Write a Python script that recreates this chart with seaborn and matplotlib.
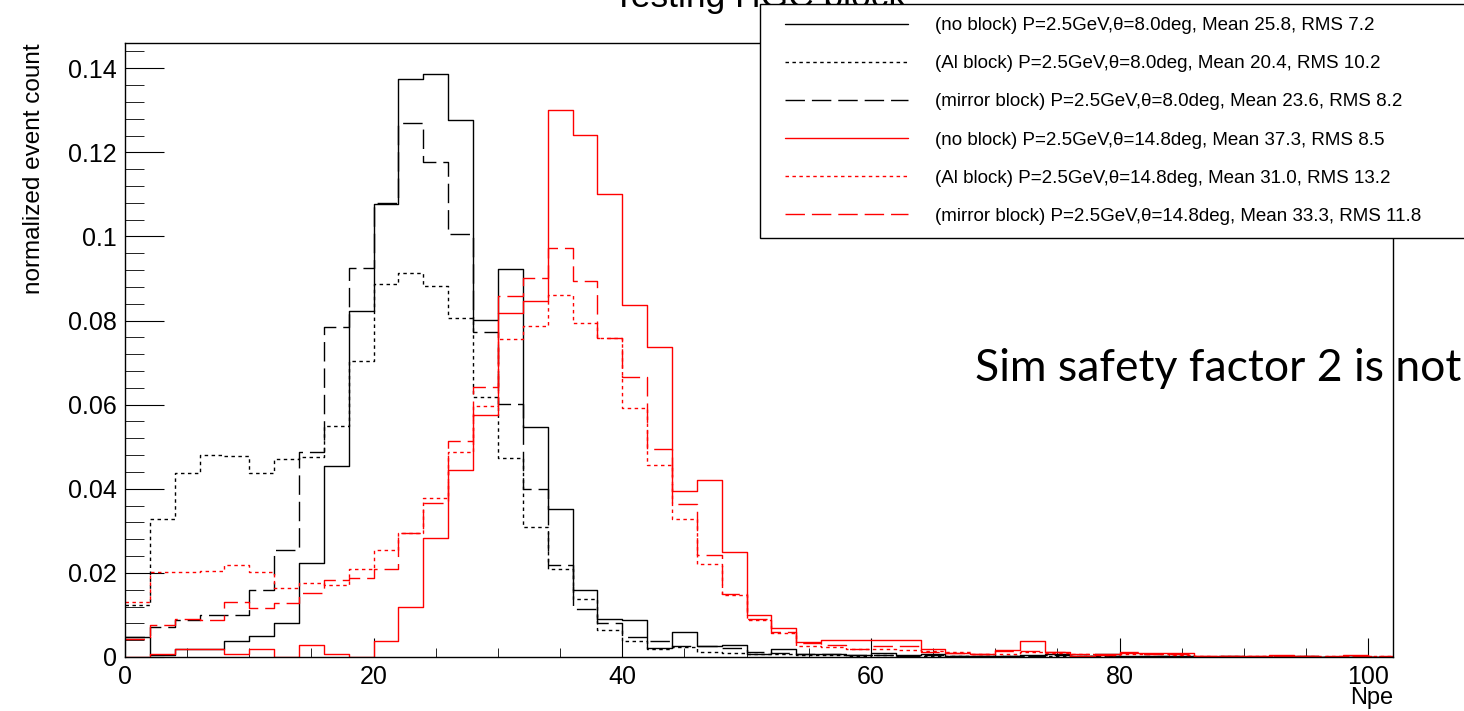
import matplotlib
matplotlib.use("Agg")
import matplotlib.pyplot as plt
import seaborn as sns
import numpy as np
import pandas as pd
from matplotlib.lines import Line2D
from matplotlib.legend_handler import HandlerLine2D
from matplotlib.ticker import MultipleLocator, FuncFormatter

# bin edges: 51 bins of width 2 from 0 to 102
edges = list(range(0, 104, 2))
centers = [e + 1 for e in edges[:-1]]

no_block_8 = [0.0048, 0.0005, 0.0019, 0.0019, 0.0039, 0.0051, 0.0081, 0.0223, 0.0455, 0.0823,
              0.1078, 0.1375, 0.1387, 0.1278, 0.0801, 0.0923, 0.0547, 0.0353, 0.0160, 0.0090,
              0.0089, 0.0022, 0.0059, 0.0027, 0.0029, 0.0008, 0.0020, 0.0006, 0.0006, 0.0004,
              0.0010, 0.0004, 0.0006, 0.0002, 0.0002, 0.0002, 0.0004, 0.0006, 0.0002, 0.0006,
              0.0002, 0.0002, 0.0002, 0.0001, 0.0002, 0.0001, 0.0001, 0.0002, 0.0001, 0.0001, 0.0000]
al_8 = [0.0124, 0.0327, 0.0438, 0.0480, 0.0479, 0.0438, 0.0472, 0.0475, 0.0550, 0.0704,
        0.0888, 0.0912, 0.0882, 0.0805, 0.0618, 0.0474, 0.0309, 0.0209, 0.0137, 0.0065,
        0.0038, 0.0019, 0.0023, 0.0012, 0.0010, 0.0008, 0.0006, 0.0004, 0.0004, 0.0003,
        0.0004, 0.0003, 0.0003, 0.0002, 0.0003, 0.0002, 0.0003, 0.0002, 0.0002, 0.0002,
        0.0001, 0.0001, 0.0002, 0.0001, 0.0001, 0.0001, 0.0001, 0.0001, 0.0000, 0.0001, 0.0000]
mirror_8 = [0.0048, 0.0072, 0.0088, 0.0100, 0.0100, 0.0160, 0.0254, 0.0487, 0.0784, 0.0926,
            0.1080, 0.1269, 0.1178, 0.1007, 0.0772, 0.0601, 0.0400, 0.0218, 0.0115, 0.0080,
            0.0048, 0.0037, 0.0025, 0.0027, 0.0021, 0.0013, 0.0010, 0.0006, 0.0006, 0.0004,
            0.0005, 0.0003, 0.0004, 0.0002, 0.0002, 0.0003, 0.0003, 0.0004, 0.0002, 0.0002,
            0.0001, 0.0002, 0.0001, 0.0001, 0.0001, 0.0001, 0.0001, 0.0001, 0.0001, 0.0000, 0.0000]
no_block_14 = [0.0001, 0.0008, 0.0019, 0.0019, 0.0008, 0.0019, 0.0000, 0.0029, 0.0008, 0.0000,
               0.0039, 0.0120, 0.0282, 0.0444, 0.0575, 0.0817, 0.0847, 0.1301, 0.1241, 0.1100,
               0.0836, 0.0737, 0.0394, 0.0422, 0.0250, 0.0099, 0.0070, 0.0036, 0.0040, 0.0040,
               0.0040, 0.0040, 0.0020, 0.0009, 0.0006, 0.0016, 0.0039, 0.0012, 0.0002, 0.0006,
               0.0009, 0.0009, 0.0009, 0.0002, 0.0002, 0.0002, 0.0004, 0.0002, 0.0001, 0.0004, 0.0001]
al_14 = [0.0131, 0.0202, 0.0202, 0.0205, 0.0218, 0.0203, 0.0163, 0.0175, 0.0171, 0.0209,
         0.0254, 0.0296, 0.0378, 0.0487, 0.0598, 0.0756, 0.0787, 0.0861, 0.0794, 0.0758,
         0.0593, 0.0457, 0.0328, 0.0220, 0.0147, 0.0087, 0.0056, 0.0026, 0.0024, 0.0020,
         0.0020, 0.0016, 0.0014, 0.0012, 0.0006, 0.0007, 0.0012, 0.0009, 0.0007, 0.0004,
         0.0006, 0.0006, 0.0004, 0.0003, 0.0002, 0.0003, 0.0002, 0.0002, 0.0003, 0.0002, 0.0002]
mirror_14 = [0.0042, 0.0075, 0.0090, 0.0088, 0.0130, 0.0117, 0.0128, 0.0152, 0.0182, 0.0187,
             0.0209, 0.0296, 0.0366, 0.0513, 0.0643, 0.0859, 0.0902, 0.0972, 0.0895, 0.0759,
             0.0666, 0.0495, 0.0365, 0.0242, 0.0150, 0.0090, 0.0060, 0.0034, 0.0029, 0.0020,
             0.0026, 0.0026, 0.0012, 0.0010, 0.0006, 0.0014, 0.0014, 0.0012, 0.0007, 0.0004,
             0.0012, 0.0007, 0.0006, 0.0003, 0.0002, 0.0002, 0.0003, 0.0002, 0.0003, 0.0002, 0.0002]

labels = ["(no block) P=2.5GeV,θ=8.0deg, Mean 25.8, RMS 7.2",
          "(Al block) P=2.5GeV,θ=8.0deg, Mean 20.4, RMS 10.2",
          "(mirror block) P=2.5GeV,θ=8.0deg, Mean 23.6, RMS 8.2",
          "(no block) P=2.5GeV,θ=14.8deg, Mean 37.3, RMS 8.5",
          "(Al block) P=2.5GeV,θ=14.8deg, Mean 31.0, RMS 13.2",
          "(mirror block) P=2.5GeV,θ=14.8deg, Mean 33.3, RMS 11.8"]

DOT = (0, (2.5, 2.5))
DASH = (0, (14, 5))
series = [(no_block_8, "black", "-"), (al_8, "black", DOT), (mirror_8, "black", DASH),
          (no_block_14, "red", "-"), (al_14, "red", DOT), (mirror_14, "red", DASH)]

sns.set_style("white")
plt.rcParams['font.family'] = ['Liberation Sans', 'DejaVu Sans']
plt.rcParams['text.color'] = 'black'
plt.rcParams['axes.labelcolor'] = 'black'
plt.rcParams['xtick.color'] = 'black'
plt.rcParams['ytick.color'] = 'black'

fig = plt.figure(figsize=(14.64, 7.11), dpi=100)
ax = fig.add_axes([125 / 1464, 54 / 711, 1268 / 1464, 614 / 711])

for vals, color, ls in series:
    df = pd.DataFrame({"npe": centers, "w": vals})
    sns.histplot(data=df, x="npe", weights="w", bins=edges, element="step", fill=False,
                 color=color, linestyle=ls, linewidth=1.0, ax=ax)

ax.set_xlim(0, 102)
ax.set_ylim(0, 0.146)
ax.xaxis.set_major_locator(MultipleLocator(20))
ax.xaxis.set_minor_locator(MultipleLocator(5))
ax.yaxis.set_major_locator(MultipleLocator(0.02))
ax.yaxis.set_minor_locator(MultipleLocator(0.004))
ax.yaxis.set_major_formatter(FuncFormatter(lambda v, p: "%g" % round(v, 4)))
ax.tick_params(axis="both", which="both", direction="in", color="black", labelsize=18)
ax.tick_params(axis="x", which="major", length=13.7, pad=6)
ax.tick_params(axis="x", which="minor", length=6.8)
ax.tick_params(axis="y", which="major", length=28, pad=6)
ax.tick_params(axis="y", which="minor", length=13.7)
ax.tick_params(bottom=True, left=True, which="both")
for s in ax.spines.values():
    s.set_color("black")
    s.set_linewidth(1.0)

ax.set_xlabel("Npe", loc="right", fontsize=17, labelpad=-2)
ax.set_ylabel("normalized event count", loc="top", fontsize=17.5)
ax.yaxis.set_label_coords(-0.063, 1.0)

fig.text(613 / 1464, 1 - 7 / 711, "Testing HGC block", ha="left", va="baseline", fontsize=25.5)

handles = [Line2D([], [], color=c, linestyle=ls, linewidth=1.0) for _, c, ls in series]
fs = 13.5
leg = fig.legend(handles, labels, loc="upper left",
                 bbox_to_anchor=(760 / 1464, 1 - 4 / 711, 720 / 1464, 0),
                 bbox_transform=fig.transFigure, mode="expand", borderaxespad=0,
                 fontsize=fs, frameon=True, fancybox=False, edgecolor="black",
                 framealpha=1, borderpad=0.7, labelspacing=1.12,
                 handlelength=7.19, handletextpad=1.44,
                 handler_map={Line2D: HandlerLine2D(xpad=0.63)})
leg.get_frame().set_linewidth(1.0)

fig.text(975 / 1464, 1 - 368 / 711, "Sim safety factor 2 is not", ha="left", va="center",
         fontsize=32, family=["Lato", "DejaVu Sans"])

fig.savefig("out.png", dpi=100, facecolor="white")
